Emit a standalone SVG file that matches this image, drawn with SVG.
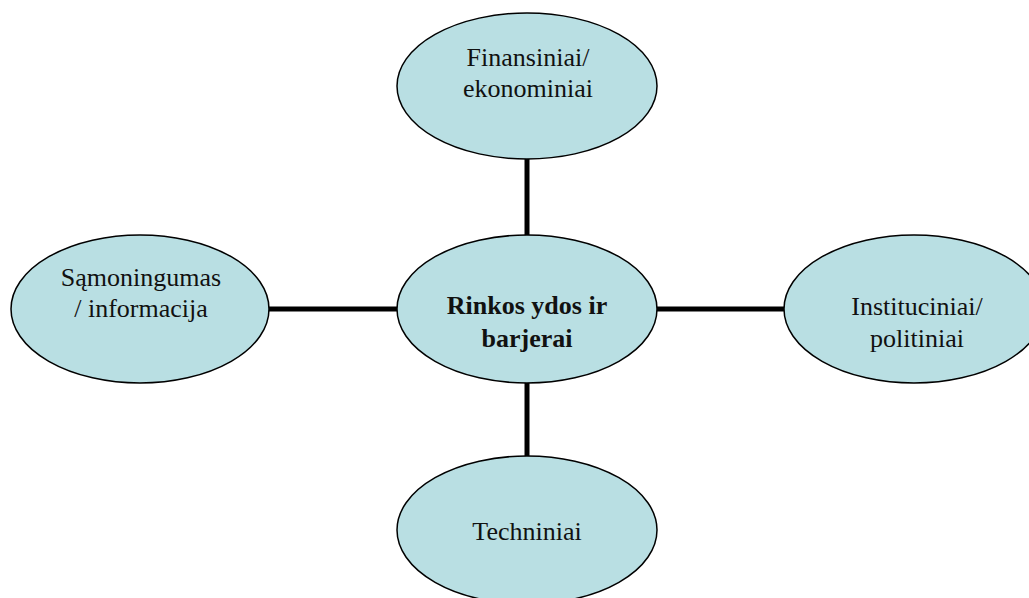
<svg xmlns="http://www.w3.org/2000/svg" width="1029" height="598" viewBox="0 0 1029 598">
  <style>
    .node ellipse { fill: #b9dfe3; stroke: #000; stroke-width: 1.5; }
    .node text { font-family: "Liberation Serif", "Times New Roman", serif; font-size: 26px; fill: #111; text-anchor: middle; }
    .node text.main { font-weight: bold; }
    .links line { stroke: #000; stroke-width: 5; }
  </style>
  <rect width="1029" height="598" fill="#fff"/>
  <g class="links">
    <line x1="527" y1="159" x2="527" y2="236"/>
    <line x1="527" y1="382" x2="527" y2="457"/>
    <line x1="268" y1="309" x2="398" y2="309"/>
    <line x1="656" y1="309" x2="785" y2="309"/>
  </g>
  <g id="node-finansiniai" class="node">
    <ellipse cx="527" cy="86" rx="130" ry="73"/>
    <text x="528" y="66">Finansiniai/</text>
    <text x="528" y="97">ekonominiai</text>
  </g>
  <g id="node-samoningumas" class="node">
    <ellipse cx="140" cy="309" rx="129" ry="74"/>
    <text x="141" y="286">Sąmoningumas</text>
    <text x="141" y="317">/ informacija</text>
  </g>
  <g id="node-rinkos" class="node">
    <ellipse cx="527" cy="309" rx="130" ry="74"/>
    <text class="main" x="527" y="314">Rinkos ydos ir</text>
    <text class="main" x="527" y="347">barjerai</text>
  </g>
  <g id="node-instituciniai" class="node">
    <ellipse cx="914" cy="309" rx="130" ry="74"/>
    <text x="917" y="315">Instituciniai/</text>
    <text x="917" y="347">politiniai</text>
  </g>
  <g id="node-techniniai" class="node">
    <ellipse cx="527" cy="530" rx="130" ry="74"/>
    <text x="527" y="540">Techniniai</text>
  </g>
</svg>
